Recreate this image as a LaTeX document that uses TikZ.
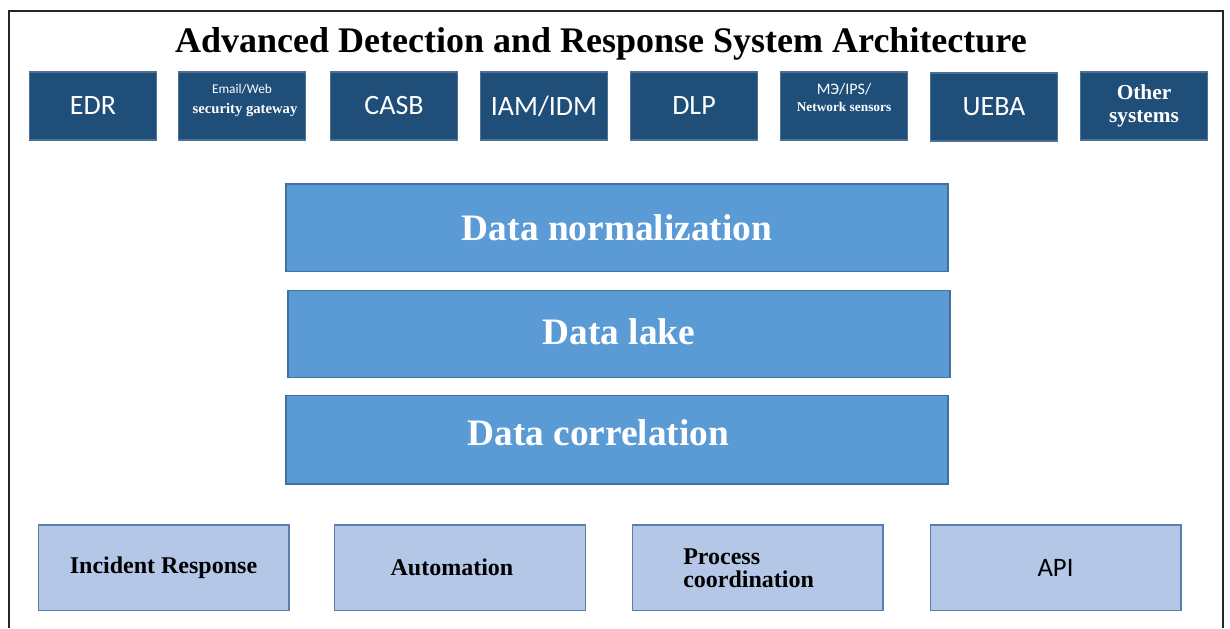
\documentclass[tikz,border=0pt]{standalone}
\usepackage{fontspec}
\setmainfont{Liberation Serif}
\newfontfamily\calib{Carlito}
\definecolor{topblue}{HTML}{1F4E79}
\definecolor{midblue}{HTML}{5B9BD5}
\definecolor{midedge}{HTML}{41719C}
\definecolor{lowblue}{HTML}{B4C7E7}
\definecolor{lowedge}{HTML}{5A7FAF}
\tikzset{
  topbox/.style={draw=topblue!80!white, line width=0.8pt, fill=topblue, minimum width=95.5pt, minimum height=51pt, inner sep=0pt, text=white, align=center},
  midbox/.style={draw=midedge, line width=1pt, fill=midblue, minimum width=496.5pt, minimum height=65.5pt, inner sep=0pt, text=white, font=\fontsize{28}{30}\selectfont\bfseries},
  lowbox/.style={draw=lowedge, line width=1pt, fill=lowblue, minimum width=188pt, minimum height=64pt, inner sep=0pt, text=black, font=\fontsize{18}{20}\selectfont\bfseries},
  plain/.style={inner sep=0pt, align=center}
}
\begin{document}
\begin{tikzpicture}[x=0.75pt,y=-0.75pt]
\path[use as bounding box, fill=white] (0,0) rectangle (1230,628);
\coordinate (fbl) at (9,628);
\coordinate (ftl) at (9,11);
\coordinate (ftr) at (1223,11);
\coordinate (fbr) at (1223,628);
\draw[line width=1.2pt, black!85] (fbl) -- (ftl) -- (ftr) -- (fbr);
\node[plain, font=\fontsize{27}{29}\selectfont\bfseries] (title) at (601,44) {Advanced Detection and Response System Architecture};
% top row
\node[topbox, font=\calib\fontsize{21}{22}\selectfont] (edr) at (93,106) {EDR};
\node[topbox] (email) at (242,106) {};
\node[plain, text=white, font=\calib\fontsize{10}{11}\selectfont] (emailA) at (242,89) {Email/Web};
\node[plain, text=white, font=\fontsize{11}{12}\selectfont\bfseries] (emailB) at (245,110) {security gateway};
\node[topbox, font=\calib\fontsize{21}{22}\selectfont] (casb) at (394,106) {CASB};
\node[topbox, font=\calib\fontsize{21}{22}\selectfont] (iam) at (544,106) {IAM/IDM};
\node[topbox, font=\calib\fontsize{21}{22}\selectfont] (dlp) at (694,106) {DLP};
\node[topbox] (fw) at (844,106) {};
\node[plain, text=white, font=\calib\fontsize{12}{13}\selectfont] (fwA) at (844,89) {МЭ/IPS/};
\node[plain, text=white, font=\fontsize{10}{11}\selectfont\bfseries] (fwB) at (844,107) {Network sensors};
\node[topbox, font=\calib\fontsize{21}{22}\selectfont] (ueba) at (994,107) {UEBA};
\node[topbox, font=\fontsize{16}{17}\selectfont\bfseries] (other) at (1144,106) {Other\\systems};
% middle layers
\node[midbox] (norm) at (617,227.5) {Data normalization};
\node[midbox] (lake) at (619,334) {\raisebox{3pt}{Data lake}};
\node[midbox, minimum height=66.5pt] (corr) at (617,439.5) {\hspace{-28pt}\raisebox{10pt}{Data correlation}};
% bottom row
\node[lowbox] (ir) at (163.5,567.5) {Incident Response};
\node[lowbox] (auto) at (460,567.5) {\hspace{-12pt}Automation};
\node[lowbox] (proc) at (757.5,567.5) {};
\node[plain, align=left, anchor=west, font=\fontsize{18}{17.5}\selectfont\bfseries] (procT) at (683,568) {Process\\coordination};
\node[lowbox, font=\calib\fontsize{20}{22}\selectfont] (api) at (1055.5,567.5) {API};
\end{tikzpicture}
\end{document}
